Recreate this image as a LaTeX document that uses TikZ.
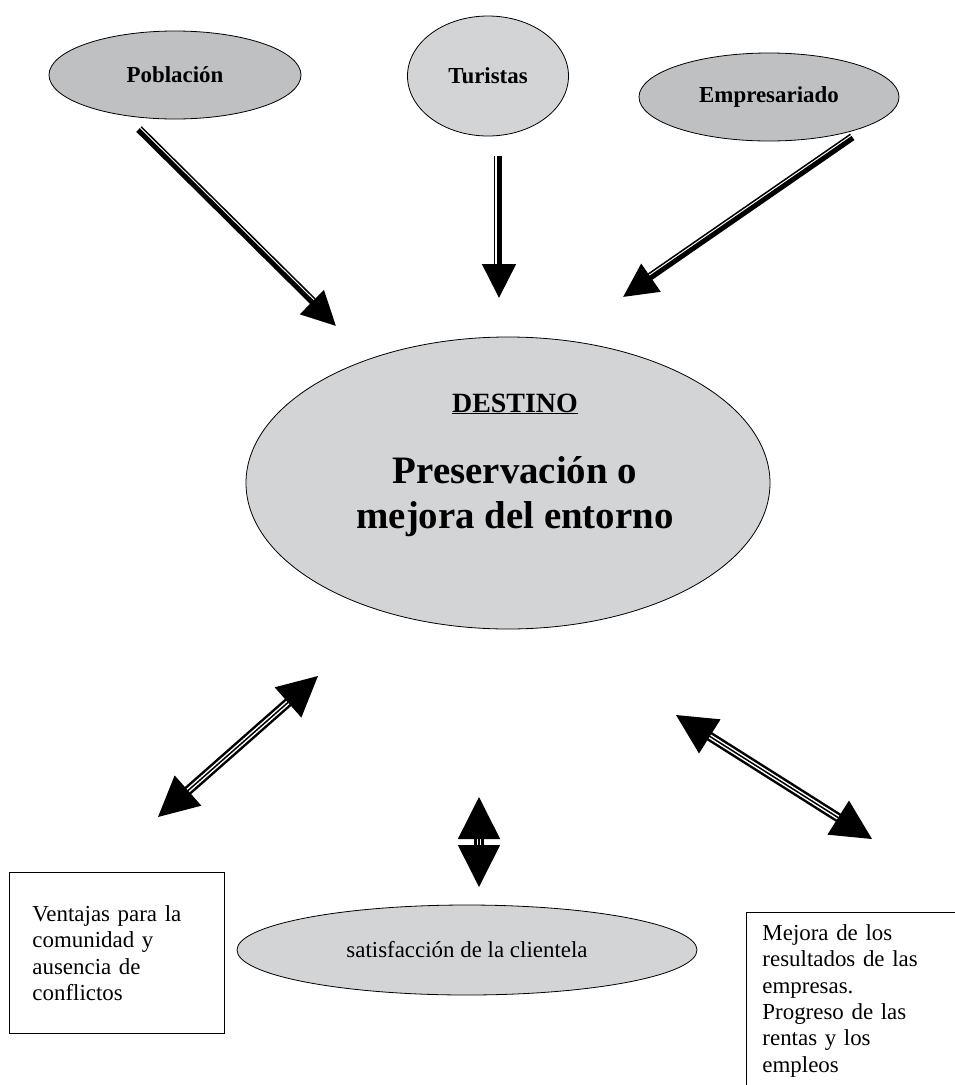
\documentclass[tikz,border=0pt]{standalone}
\usepackage{fontspec}
\setmainfont{Liberation Serif}
\usetikzlibrary{arrows.meta, shapes.geometric, calc}
\definecolor{cdark}{HTML}{BFC0C2}
\definecolor{clight}{HTML}{D3D4D6}
\tikzset{
  every picture/.style={line width=0.8bp},
  blob/.style={ellipse, draw=black, fill=#1, inner sep=0pt, font=\fontsize{23}{27}\selectfont\bfseries},
  blob/.default=clight,
  textbox/.style={draw=black, line width=0.9bp, align=left, inner sep=0pt, font=\fontsize{23}{26.5}\selectfont},
  bigtext/.style={font=\fontsize{39}{45}\selectfont\bfseries, inner sep=0pt},
  onearrow/.style={->, >={Triangle[length=34bp, width=33bp]}, line width=5bp},
  thinline/.style={line width=1.5bp},
  twoshaft/.style={double=white, line width=2.5bp, double distance=4.5bp, shorten <=#1, shorten >=#1},
  twoarrow/.style={<->, >={Triangle[length=#1, width=#1]}, line width=1.5bp},
}

\begin{document}
\begin{tikzpicture}[x=1bp, y=-1bp]
  \useasboundingbox (0,0) rectangle (955,1085);
  % the three actors on top
  \node[blob=cdark, minimum width=252bp, minimum height=88bp] (pob) at (175,75) {Población};
  \node[blob, minimum width=161bp, minimum height=120bp] (tur) at (488,76) {Turistas};
  \node[blob=cdark, minimum width=260bp, minimum height=88bp] (emp) at (769,97) {Empresariado};

  % the destination in the middle
  \node[blob, minimum width=524bp, minimum height=292bp] (dest) at (508,483) {};
  \node[font=\fontsize{28}{30}\selectfont\bfseries, inner sep=0pt, anchor=base] (destino) at (515,412) {\underline{DESTINO}};
  \node[bigtext, anchor=base] (pres) at (515,483) {Preservación o};
  \node[bigtext, anchor=base] (mej) at (515,528) {mejora del entorno};

  % results below
  \node[blob, minimum width=460bp, minimum height=90bp, font=\fontsize{23}{27}\selectfont] (sat) at (467,950) {satisfacción de la clientela};
  \node[textbox, anchor=north west, minimum width=215bp, minimum height=161bp, text width=169bp] (vent) at (9,872)
    {Ventajas para la\\comunidad y\\ausencia de\\conflictos};
  \node[textbox, anchor=north west, text width=198bp, inner xsep=16bp, inner ysep=12bp] (res) at (746,912)
    {Mejora de los\\resultados de las\\empresas.\\Progreso de las\\rentas y los\\empleos};

  % arrow ends
  \coordinate (pobS) at (138,130); \coordinate (pobE) at (336,326);
  \coordinate (turS) at (499,156); \coordinate (turE) at (499,298);
  \coordinate (empS) at (853,138); \coordinate (empE) at (623,297);
  \coordinate (lA) at (318,676); \coordinate (lB) at (158,817);
  \coordinate (mA) at (479,797); \coordinate (mB) at (479,887);
  \coordinate (rA) at (676,715); \coordinate (rB) at (872,839);

  % one-way arrows: thick shaft with a thin line beside it
  \foreach \s/\e/\r in {pobS/pobE/90, turS/turE/-90, empS/empE/-90} {
    \draw[onearrow] (\s) -- (\e);
    \coordinate (hb) at ($(\e)!34bp!(\s)$);
    \draw[thinline] ($(\s)!4.5bp!\r:(\e)$) -- ($(hb)!4.5bp!\r:(\e)$);
  }

  % two-way arrows
  \foreach \a/\b/\h in {lA/lB/40bp, mA/mB/42bp, rA/rB/40bp} {
    \draw[twoshaft=\h-1bp] (\a) -- (\b);
    \draw[twoarrow=\h] (\a) -- (\b);
  }
\end{tikzpicture}
\end{document}
